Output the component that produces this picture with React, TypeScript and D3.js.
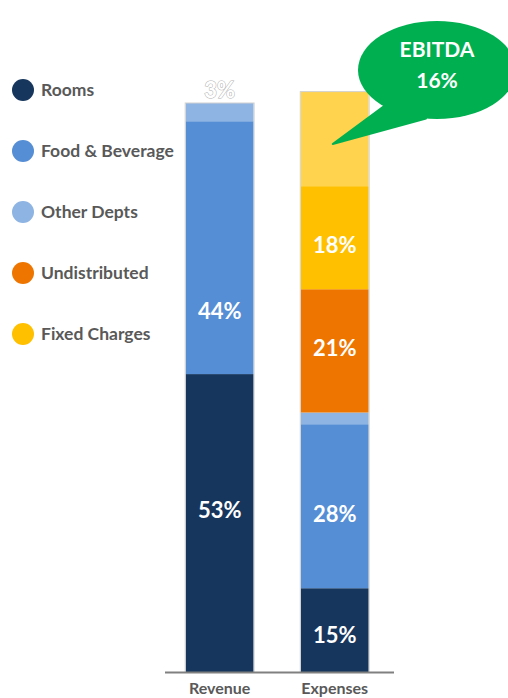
import React from "react";
import * as d3 from "d3";

const categories = ["Revenue", "Expenses"];
const seriesNames = ["Rooms", "Food & Beverage", "Other Depts", "Undistributed", "Fixed Charges", "EBITDA"];
const revenueValues = [52.4, 44.4, 3.2, 0, 0, 0];
const expenseValues = [14.8, 28.8, 2.05, 21.65, 18.1, 16.6];
const revenueLabels = ["53%", "44%", "3%", "", "", ""];
const expenseLabels = ["15%", "28%", "", "21%", "18%", ""];
// label anchor positions in value units (as placed in the picture)
const revenueLabelAt = [28.4, 63.5, 102.2, 0, 0, 0];
const expenseLabelAt = [6.6, 27.7, 0, 57.0, 75.1, 0];
const legendNames = ["Rooms", "Food & Beverage", "Other Depts", "Undistributed", "Fixed Charges"];
const calloutTitle = "EBITDA";
const calloutValue = "16%";
const calloutTarget = 92.8;

const colors = ["#17365D", "#558ED5", "#8EB4E3", "#EE7600", "#FFC000", "#FFD34E"];

const W = 508;
const H = 698;
const FONT = "Lato, 'Open Sans', sans-serif";

export default function App() {
  const x = d3.scaleBand<string>().domain(categories).range([165, 394]).paddingInner(0.41).paddingOuter(0.2).align(0.45);
  const y = d3.scaleLinear().domain([0, 100]).range([672.5, 103]);

  const table = categories.map((c, i) => {
    const row: any = { cat: c };
    const vals = i === 0 ? revenueValues : expenseValues;
    seriesNames.forEach((s, j) => (row[s] = vals[j]));
    return row;
  });
  const stack = d3.stack<any>().keys(seriesNames)(table);

  const labels = [
    { cat: "Revenue", texts: revenueLabels, at: revenueLabelAt },
    { cat: "Expenses", texts: expenseLabels, at: expenseLabelAt },
  ];

  const bw = x.bandwidth();
  const ex = (x("Expenses") as number) + bw / 2;
  const tipY = y(calloutTarget);
  // callout ellipse
  const cx = 437, cy = 70, rx = 79, ry = 49;
  const a1 = (118 * Math.PI) / 180;
  const a2 = (98 * Math.PI) / 180;
  const p1 = [cx + rx * Math.cos(a1 + 0.25), cy + ry * Math.sin(a1 + 0.25)];
  const p2 = [cx + rx * Math.cos(a2), cy + ry * Math.sin(a2)];

  const legendY = d3.scalePoint<string>().domain(legendNames).range([90, 334]);

  return (
    <svg width={W} height={H} style={{ position: "absolute", left: 0, top: 0, background: "#fff" }} fontFamily={FONT}>
      {stack.map((layer, j) =>
        layer.map((d, i) => {
          const h = y(d[0]) - y(d[1]);
          if (h <= 0) return null;
          return (
            <rect
              key={`${j}-${i}`}
              x={x(categories[i])}
              y={y(d[1])}
              width={bw}
              height={h}
              fill={colors[j]}
            />
          );
        })
      )}
      {categories.map((c) => (
        <rect
          key={"o" + c}
          x={(x(c) as number) - 0.5}
          y={y(d3.sum(c === "Revenue" ? revenueValues : expenseValues))}
          width={bw + 1}
          height={y(0) - y(d3.sum(c === "Revenue" ? revenueValues : expenseValues))}
          fill="none"
          stroke="#d0d0d0"
          strokeWidth={1}
        />
      ))}
      {/* axis line */}
      <line x1={x.range()[0]} x2={x.range()[1]} y1={y(0)} y2={y(0)} stroke="#808080" strokeWidth={2} />
      {categories.map((c) => (
        <text
          key={"c" + c}
          x={(x(c) as number) + bw / 2}
          y={694}
          textAnchor="middle"
          fontSize={16}
          fontWeight={700}
          fill="#595959"
        >
          {c}
        </text>
      ))}
      {labels.map((l) =>
        l.texts.map((t, j) =>
          t ? (
            <text
              key={l.cat + j}
              x={(x(l.cat) as number) + bw / 2}
              y={y(l.at[j])}
              dy="0.35em"
              textAnchor="middle"
              fontSize={22}
              fontWeight={700}
              fill="#fff"
              stroke={l.at[j] > 100 ? "#b0b0b0" : "none"}
              strokeWidth={l.at[j] > 100 ? 1 : 0}
              paintOrder="stroke"
            >
              {t}
            </text>
          ) : null
        )
      )}
      {/* callout */}
      <path
        d={`M${p1[0]},${p1[1]} L${ex - 2},${tipY} L${p2[0]},${p2[1]} Z`}
        fill="#00B050"
        stroke="#00B050"
        strokeLinejoin="round"
        strokeWidth={2}
      />
      <ellipse cx={cx} cy={cy} rx={rx} ry={ry} fill="#00B050" />
      <text x={cx} y={57} textAnchor="middle" fontSize={21} fontWeight={700} fill="#fff">
        {calloutTitle}
      </text>
      <text x={cx} y={88} textAnchor="middle" fontSize={21} fontWeight={700} fill="#fff">
        {calloutValue}
      </text>
      {/* legend */}
      {legendNames.map((n, i) => (
        <g key={n} transform={`translate(0,${legendY(n)})`}>
          <circle cx={23} cy={0} r={11} fill={colors[i]} />
          <text x={41} y={0} dy="0.35em" fontSize={17.5} fontWeight={700} fill="#595959">
            {n}
          </text>
        </g>
      ))}
    </svg>
  );
}
